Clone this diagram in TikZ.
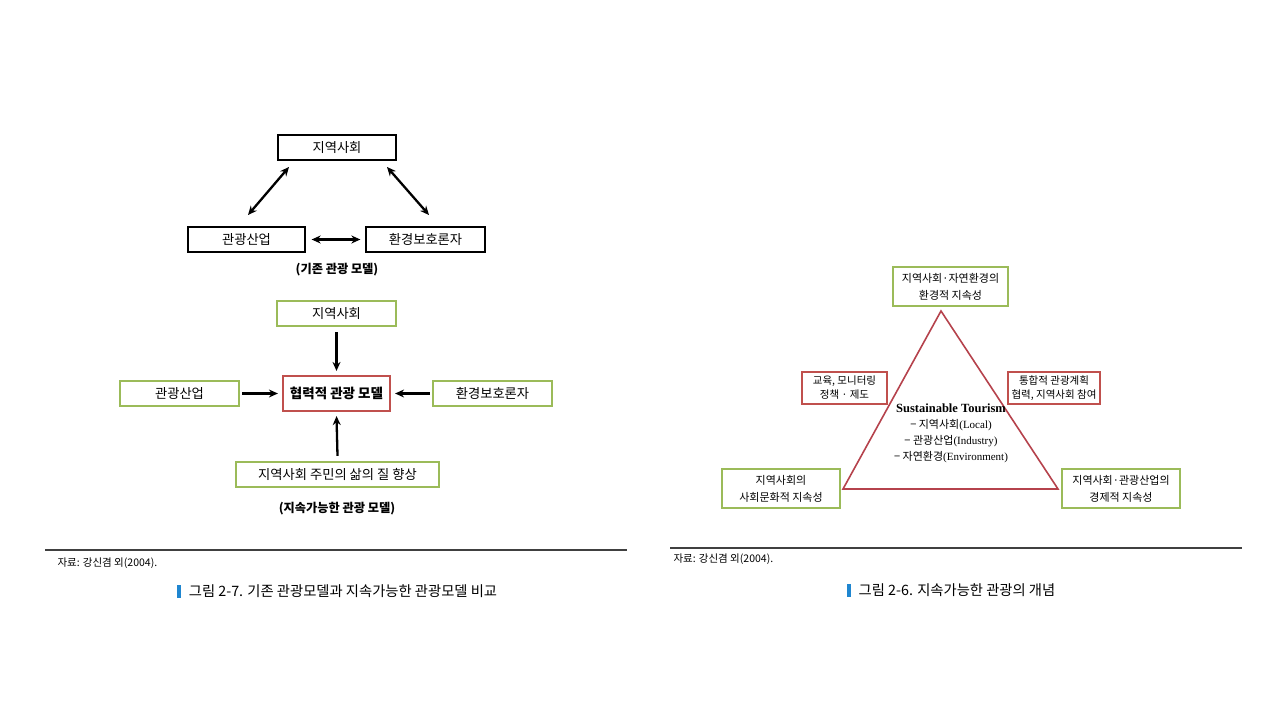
\documentclass[tikz,border=0pt]{standalone}
\usepackage{fontspec}
\setmainfont{Noto Sans CJK KR}
\newfontfamily\ser{Liberation Serif}
\usetikzlibrary{arrows.meta}
\definecolor{grn}{HTML}{9BBB59}
\definecolor{rd}{HTML}{C0504D}
\definecolor{tri}{HTML}{B5424C}
\definecolor{bar}{HTML}{1F86D0}
\tikzset{
  bbox/.style={draw=black, line width=1.3pt, minimum height=25pt, inner sep=0pt, font=\fontsize{13.3}{15}\selectfont},
  gbox/.style={draw=grn, line width=2.4pt, minimum height=25pt, inner sep=0pt, font=\fontsize{13.3}{15}\selectfont},
  rbox/.style={draw=rd, line width=2.2pt, inner sep=0pt, font=\fontsize{13.5}{15}\selectfont\bfseries},
  g2box/.style={draw=grn, line width=2.4pt, minimum height=39pt, inner sep=0pt, align=center, font=\fontsize{11}{17}\selectfont},
  r2box/.style={draw=rd, line width=1.8pt, minimum height=32pt, inner sep=0pt, align=center, font=\fontsize{10.5}{14}\selectfont},
  arr/.style={line width=2.3pt, -{Stealth[length=9pt,width=8pt]}},
  darr/.style={line width=2.3pt, {Stealth[length=9pt,width=8pt]}-{Stealth[length=9pt,width=8pt]}},
  subcap/.style={font=\fontsize{12.2}{14}\selectfont\bfseries},
  src/.style={anchor=west, font=\fontsize{10.5}{12}\selectfont},
  figcap/.style={font=\fontsize{14.3}{16}\selectfont},
}
\begin{document}
\begin{tikzpicture}[x=1pt,y=-1pt]
\useasboundingbox (0,0) rectangle (1280,719);
% ---- existing model
\node[bbox, minimum width=118pt] (a1) at (337,147.5) {지역사회};
\node[bbox, minimum width=117pt] (a2) at (246.5,239.5) {관광산업};
\node[bbox, minimum width=119pt] (a3) at (425.5,239.5) {환경보호론자};
\coordinate (a1l) at (289,167); \coordinate (a2t) at (248,215);
\coordinate (a1r) at (387,167); \coordinate (a3t) at (429,215);
\draw[darr] (a1l) -- (a2t);
\draw[darr] (a1r) -- (a3t);
\draw[darr] ([xshift=6pt]a2.east) -- ([xshift=-5pt]a3.west);
\node[subcap] (c1) at (337,270) {(기존 관광 모델)};
% ---- sustainable model
\node[gbox, minimum width=119pt] (b1) at (336.5,313.5) {지역사회};
\node[rbox, minimum width=107pt, minimum height=35pt] (b0) at (336.5,393.5) {협력적 관광 모델};
\node[gbox, minimum width=119pt] (b2) at (179.5,393.5) {관광산업};
\node[gbox, minimum width=119pt] (b3) at (492.5,393.5) {환경보호론자};
\node[gbox, minimum width=203pt] (b4) at (337.5,474.5) {지역사회 주민의 삶의 질 향상};
\draw[arr] ([yshift=-5pt]b1.south) -- ([yshift=4pt]b0.north);
\draw[arr] ([xshift=2pt]b2.east) -- ([xshift=-4pt]b0.west);
\draw[arr] ([xshift=-2pt]b3.west) -- ([xshift=4pt]b0.east);
\draw[arr] ([yshift=5pt]b4.north) -- ([yshift=-4pt]b0.south);
\node[subcap] (c2) at (337,509) {(지속가능한 관광 모델)};
% ---- footer left
\coordinate (l1a) at (45,550); \coordinate (l1b) at (627,550);
\draw[line width=1.2pt, black!75] (l1a) -- (l1b);
\node[src] (s1) at (54,563) {자료: 강신겸 외(2004).};
\node[figcap] (f1) at (343,591) {그림 2-7. 기존 관광모델과 지속가능한 관광모델 비교};
\fill[bar] ([xshift=-8pt,yshift=-6.5pt]f1.west) rectangle ([xshift=-4pt,yshift=6.5pt]f1.west);
% ---- right diagram
\coordinate (t1) at (941,311); \coordinate (t2) at (843,489); \coordinate (t3) at (1058,489);
\draw[tri, line width=1.6pt, line join=miter] (t1) -- (t2) -- (t3) -- cycle;
\node[g2box, minimum width=115pt] (d1) at (950.5,286.5) {지역사회·자연환경의\\환경적 지속성};
\node[g2box, minimum width=118pt] (d2) at (781,488.5) {지역사회의\\사회문화적 지속성};
\node[g2box, minimum width=118pt] (d3) at (1121,488.5) {지역사회·관광산업의\\경제적 지속성};
\node[r2box, minimum width=85pt] (e1) at (844.5,388) {교육, 모니터링\\정책 · 제도};
\node[r2box, minimum width=92pt] (e2) at (1054,388) {통합적 관광계획\\협력, 지역사회 참여};
\node[align=center, inner sep=0pt, font=\fontsize{11}{16}\selectfont] (m) at (951,433) {{\ser\bfseries\fontsize{12.5}{16}\selectfont Sustainable Tourism}\\
− 지역사회{\ser(Local)}\\
− 관광산업{\ser(Industry)}\\
− 자연환경{\ser(Environment)}};
% ---- footer right
\coordinate (l2a) at (670,548); \coordinate (l2b) at (1242,548);
\draw[line width=1.2pt, black!75] (l2a) -- (l2b);
\node[src] (s2) at (670,559) {자료: 강신겸 외(2004).};
\node[figcap] (f2) at (957,590) {그림 2-6. 지속가능한 관광의 개념};
\fill[bar] ([xshift=-8pt,yshift=-6.5pt]f2.west) rectangle ([xshift=-4pt,yshift=6.5pt]f2.west);
\end{tikzpicture}
\end{document}
